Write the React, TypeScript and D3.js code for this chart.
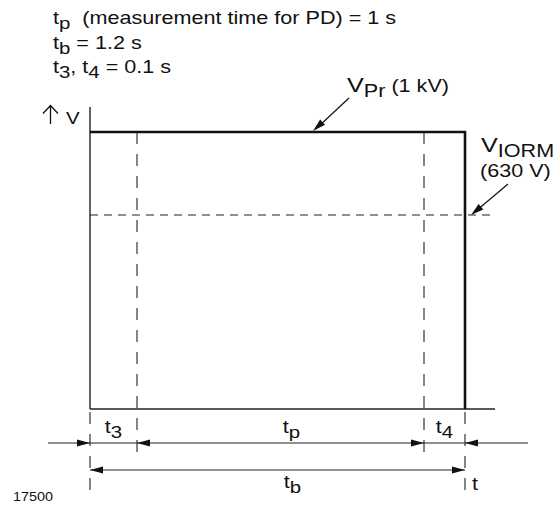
import React from 'react';
import * as d3 from 'd3';

// timing of the partial discharge test, seconds
const segmentNames = ['t3', 'tp', 't4'];
const segmentTimes = [0.1, 1, 0.1];
const totalName = 'tb';
const totalTime = 1.2;

// voltage levels, volts
const levelNames = ['VIORM', 'VPr'];
const levelValues = [630, 1000];

const noteLines = [
  [['t', ''], ['p', 'sub'], ['  (measurement time for PD) = 1 s', '']],
  [['t', ''], ['b', 'sub'], [' = 1.2 s', '']],
  [['t', ''], ['3', 'sub'], [', t', ''], ['4', 'sub'], [' = 0.1 s', '']],
];

const W = 555;
const H = 506;
const FONT = '"Liberation Sans", Arial, Helvetica, sans-serif';
const SX = 1.2; // the lettering of the original is a little wider than Arial

function arrowHead(tx: number, ty: number, fx: number, fy: number, len = 13, half = 3.6) {
  const a = Math.atan2(ty - fy, tx - fx);
  const bx = tx - len * Math.cos(a), by = ty - len * Math.sin(a);
  const px = -Math.sin(a) * half, py = Math.cos(a) * half;
  return `M${tx},${ty}L${bx + px},${by + py}L${bx - px},${by - py}Z`;
}

function T({ x, y, size = 18, anchor = 'start', children, ...rest }: any) {
  return (
    <text
      transform={`translate(${x},${y}) scale(${SX},1)`}
      fontSize={size}
      fontFamily={FONT}
      textAnchor={anchor}
      fill="#111"
      {...rest}
    >
      {children}
    </text>
  );
}

function SubLabel({ x, y, name, anchor = 'start' }: any) {
  return (
    <T x={x} y={y} anchor={anchor}>
      {name[0]}
      <tspan fontSize={17} dy={5}>{name.slice(1)}</tspan>
    </T>
  );
}

export default function App() {
  const bounds = [0];
  segmentTimes.forEach((t) => bounds.push(bounds[bounds.length - 1] + t));
  // schematic, not to scale: the segments are drawn with fixed widths
  const x = d3.scaleLinear().domain(bounds).range([90, 137, 424, 465]);
  const y = d3.scaleLinear().domain([0, ...levelValues]).range([409, 215, 132]);

  const vPr = levelValues[1];
  const vIorm = levelValues[0];
  const dim1 = 443;
  const dim2 = 470;
  const labelShift = [0, 11, 0];
  const dashV = { stroke: '#5e5e5e', strokeWidth: 1.5, strokeDasharray: '12 10' };

  return (
    <div style={{ position: 'absolute', left: 0, top: 0 }}>
      <svg width={W} height={H} style={{ display: 'block', background: '#fff' }}>
        {noteLines.map((parts, i) => (
          <T key={i} x={53} y={24 + i * 24.5} style={{ whiteSpace: 'pre' }}>
            {parts.map(([s, k], j) => {
              const prev = j > 0 ? parts[j - 1][1] : '';
              const dy = k === 'sub' ? 5 : prev === 'sub' ? -5 : 0;
              return (
                <tspan key={j} dy={dy} fontSize={k === 'sub' ? 17 : 18}>{s}</tspan>
              );
            })}
          </T>
        ))}

        {/* axis label */}
        <path d="M50.5,124V105.5M43,113.5L50.5,105.5L58,113.5" fill="none" stroke="#111" strokeWidth={1.3} />
        <T x={66} y={124} size={17}>V</T>

        {/* axes */}
        <line x1={x(0)} x2={x(0)} y1={y(vPr) - 25} y2={y(0)} stroke="#222" strokeWidth={1.4} />
        <line x1={x(0)} x2={x(totalTime) + 30} y1={y(0)} y2={y(0)} stroke="#222" strokeWidth={1.4} />

        {/* segment boundaries */}
        {bounds.slice(1, -1).map((b) => (
          <line key={b} x1={x(b)} x2={x(b)} y1={y(vPr)} y2={dim1 + 18} {...dashV} />
        ))}
        {[0, totalTime].map((b) => (
          <line key={b} x1={x(b)} x2={x(b)} y1={y(0) + 3} y2={H - 14} {...dashV} />
        ))}

        {/* VIORM level */}
        <line x1={x(0)} x2={x(totalTime) + 25} y1={y(vIorm)} y2={y(vIorm)} stroke="#222" strokeWidth={1.2} strokeDasharray="8 6" />

        {/* test voltage pulse */}
        <path
          d={`M${x(0)},${y(vPr)}H${x(totalTime)}V${y(0)}`}
          fill="none"
          stroke="#111"
          strokeWidth={2.6}
        />

        {/* dimension line for t3, tp, t4 */}
        <line x1={48} x2={528} y1={dim1} y2={dim1} stroke="#222" strokeWidth={1.2} />
        <path d={arrowHead(x(0), dim1, x(0) - 20, dim1)} fill="#111" />
        <path d={arrowHead(x(bounds[1]), dim1, x(bounds[1]) + 20, dim1)} fill="#111" />
        <path d={arrowHead(x(bounds[2]), dim1, x(bounds[2]) - 20, dim1)} fill="#111" />
        <path d={arrowHead(x(bounds[3]), dim1, x(bounds[3]) + 20, dim1)} fill="#111" />

        {/* dimension line for tb */}
        <line x1={x(0)} x2={x(totalTime)} y1={dim2} y2={dim2} stroke="#222" strokeWidth={1.2} />
        <path d={arrowHead(x(0), dim2, x(0) + 20, dim2)} fill="#111" />
        <path d={arrowHead(x(totalTime), dim2, x(totalTime) - 20, dim2)} fill="#111" />

        {/* segment labels */}
        {segmentNames.map((n, i) => (
          <SubLabel
            key={n}
            x={(x(bounds[i]) + x(bounds[i + 1])) / 2 + labelShift[i]}
            y={433}
            name={n}
            anchor="middle"
          />
        ))}
        <SubLabel x={(x(0) + x(totalTime)) / 2 + 15} y={488} name={totalName} anchor="middle" />
        <T x={x(totalTime) + 7} y={490}>t</T>

        {/* level annotations */}
        <T x={347} y={92} size={21}>
          V<tspan fontSize={18} dy={5}>Pr</tspan>
          <tspan fontSize={18} dy={-5}> (1 kV)</tspan>
        </T>
        <line x1={349} y1={98} x2={318} y2={127} stroke="#111" strokeWidth={1.2} />
        <path d={arrowHead(313, y(vPr) - 1, 349, 98)} fill="#111" />

        <T x={481} y={152} size={21}>
          V<tspan fontSize={18} dy={5}>IORM</tspan>
        </T>
        <T x={480} y={177}>(630 V)</T>
        <line x1={508} y1={184} x2={476} y2={211} stroke="#111" strokeWidth={1.2} />
        <path d={arrowHead(471, y(vIorm), 508, 184)} fill="#111" />

        <T x={13} y={501} size={12}>17500</T>
      </svg>
    </div>
  );
}
